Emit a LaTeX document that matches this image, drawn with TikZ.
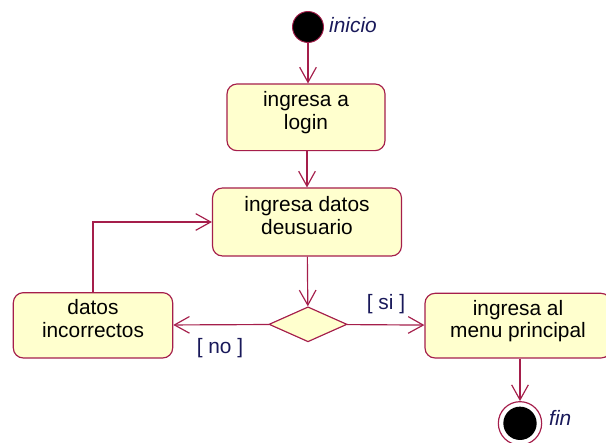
\documentclass[tikz,border=0pt]{standalone}
\usepackage{fontspec}
\setmainfont{Liberation Sans}
\usepackage{tikz}
\usetikzlibrary{arrows.meta,shapes.geometric,positioning,calc}

\definecolor{umlborde}{RGB}{165,30,75}
\definecolor{umlfondo}{RGB}{255,255,206}
\definecolor{umltexto}{RGB}{25,25,90}

\begin{document}
\begin{tikzpicture}[
    accion/.style={draw=umlborde, line width=1pt, rounded corners=0.3cm, fill=umlfondo, align=center, font=\fontsize{17.8pt}{19.5pt}\selectfont, inner sep=2pt, text depth=0.4cm},
    decision/.style={draw=umlborde, line width=1pt, diamond, fill=umlfondo, minimum width=2.34cm, minimum height=1.05cm, inner sep=0pt},
    flecha/.style={-{Straight Barb[length=0.45cm, width=0.5cm]}, line width=1pt, draw=umlborde},
    guarda/.style={font=\fontsize{17.8pt}{19.5pt}\selectfont, text=umltexto, inner sep=0pt},
    etiq/.style={font=\fontsize{17.8pt}{19.5pt}\selectfont\itshape, text=umltexto, anchor=west, inner sep=0pt}
]
\clip (0,0) rectangle (18.18,-13.29);

\node[circle, fill=black, draw=umlborde, line width=0.8pt, minimum size=0.93cm, inner sep=0pt] (inicio) at (9.24,-0.81) {};
\node[etiq] (tinicio) at (9.87,-0.75) {inicio};

\node[accion, minimum width=4.74cm, minimum height=2.0cm] (login) at (9.18,-3.52) {ingresa a\\login};
\node[accion, minimum width=5.67cm, minimum height=2.04cm] (datos) at (9.21,-6.66) {ingresa datos\\deusuario};
\node[decision] (dec) at (9.24,-9.73) {};
\node[accion, minimum width=4.78cm, minimum height=1.96cm] (error) at (2.79,-9.76) {datos\\incorrectos};
\node[accion, minimum width=5.58cm, minimum height=1.94cm] (menu) at (15.54,-9.77) {ingresa al\\menu principal};

\node[circle, draw=umlborde, line width=1pt, fill=white, minimum size=1.30cm, inner sep=0pt] (fin) at (15.6,-12.70) {};
\node[circle, fill=black, minimum size=1.0cm, inner sep=0pt] at (fin) {};
\node[etiq] (tfin) at (16.47,-12.54) {fin};

\draw[flecha] (inicio) -- (inicio |- login.north);
\draw[flecha] (login.south -| datos) -- (datos);
\draw[flecha] (datos) -- (dec);
\draw[flecha] (dec) -- (error);
\draw[flecha] (dec) -- (menu);
\draw[flecha] (error.north) |- (datos.west);
\draw[flecha] (fin |- menu.south) -- (fin);

\node[guarda] (no) at (6.6,-10.44) {[ no ]};
\node[guarda] (si) at (11.58,-9.12) {[ si ]};
\end{tikzpicture}
\end{document}
